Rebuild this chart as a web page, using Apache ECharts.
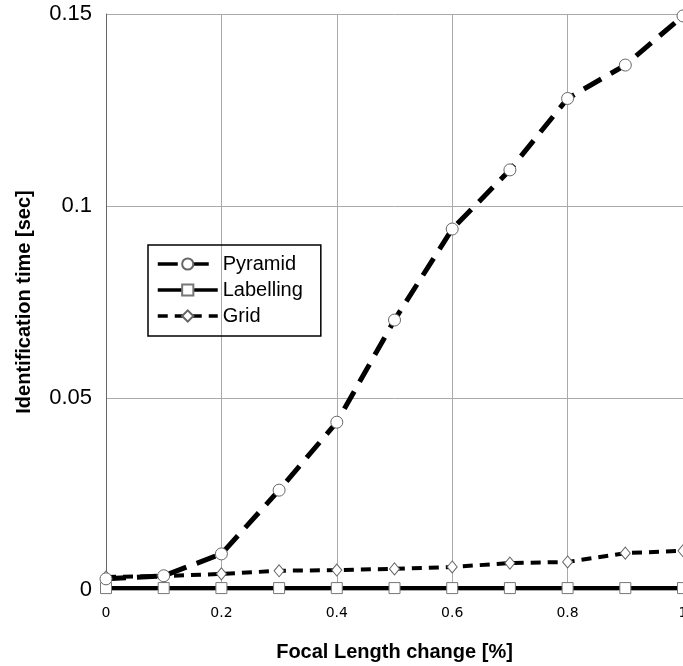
<!DOCTYPE html>
<html>
<head>
<meta charset="utf-8">
<script src="https://cdn.jsdelivr.net/npm/echarts@6/dist/echarts.min.js"></script>
<style>
  html, body { margin: 0; padding: 0; background: #fff; }
  #chart { width: 683px; height: 666px; }
</style>
</head>
<body>
<div id="chart"></div>
<script>
// focal length change (x)
const focalChange = [0, 0.1, 0.2, 0.3, 0.4, 0.5, 0.6, 0.7, 0.8, 0.9, 1.0];
// identification time [sec]
const pyramid = [0.0029, 0.0037, 0.0094, 0.026, 0.0437, 0.0703, 0.094, 0.1094, 0.128, 0.1367, 0.1495];
const labelling = [0.0005, 0.0005, 0.0005, 0.0005, 0.0005, 0.0005, 0.0005, 0.0005, 0.0005, 0.0005, 0.0005];
const gridTimes = [0.0034, 0.0036, 0.0042, 0.005, 0.0052, 0.0055, 0.006, 0.007, 0.0073, 0.0096, 0.0102];

const pairs = vals => focalChange.map((x, i) => [x, vals[i]]);
const font = 'Liberation Sans, Arial, sans-serif';

const chart = echarts.init(document.getElementById('chart'));

const option = {
  animation: false,
  textStyle: { fontFamily: font },
  grid: { left: 106, right: 0, top: 14, bottom: 76, containLabel: false, outerBoundsMode: 'none' },
  legend: {
    orient: 'vertical',
    left: 148,
    top: 245,
    padding: [9, 18, 10, 8],
    itemGap: 6,
    itemWidth: 60,
    itemHeight: 14,
    borderColor: '#000',
    borderWidth: 1.5,
    lineStyle: { width: 3.5 },
    textStyle: { fontSize: 20, color: '#000', fontFamily: font },
    data: ['Pyramid', 'Labelling', 'Grid']
  },
  xAxis: {
    type: 'value',
    min: 0,
    max: 1,
    interval: 0.2,
    name: 'Focal Length change [%]',
    nameLocation: 'middle',
    nameGap: 52,
    nameTextStyle: { fontSize: 20, fontWeight: 'bold', color: '#000' },
    axisLine: { show: false },
    axisTick: { show: false },
    axisLabel: { fontSize: 14, color: '#000', margin: 16, fontFamily: 'DejaVu Sans' },
    splitLine: { show: true, lineStyle: { color: '#aaa', width: 1 } }
  },
  yAxis: {
    type: 'value',
    min: 0,
    max: 0.15,
    interval: 0.05,
    name: 'Identification time [sec]',
    nameLocation: 'middle',
    nameGap: 72,
    nameTextStyle: { fontSize: 20, fontWeight: 'bold', color: '#000' },
    axisLine: { show: true, lineStyle: { color: '#666', width: 1 } },
    axisTick: { show: false },
    axisLabel: { fontSize: 22, color: '#000', margin: 14 },
    splitLine: { show: true, lineStyle: { color: '#aaa', width: 1 } }
  },
  series: [
    {
      name: 'Labelling',
      type: 'line',
      data: pairs(labelling),
      symbol: 'rect',
      symbolSize: 11,
      z: 2,
      lineStyle: { color: '#000', width: 4, type: 'solid' },
      itemStyle: { color: '#fff', borderColor: '#777', borderWidth: 1 }
    },
    {
      name: 'Grid',
      type: 'line',
      data: pairs(gridTimes),
      symbol: 'diamond',
      symbolSize: [10, 12],
      z: 3,
      lineStyle: { color: '#000', width: 4, type: [10, 7] },
      itemStyle: { color: '#fff', borderColor: '#666', borderWidth: 1 }
    },
    {
      name: 'Pyramid',
      type: 'line',
      data: pairs(pyramid),
      symbol: 'circle',
      symbolSize: 12,
      z: 4,
      lineStyle: { color: '#000', width: 5, type: [20, 11] },
      itemStyle: { color: '#fff', borderColor: '#666', borderWidth: 1 }
    }
  ]
};

chart.setOption(option);
</script>
</body>
</html>
